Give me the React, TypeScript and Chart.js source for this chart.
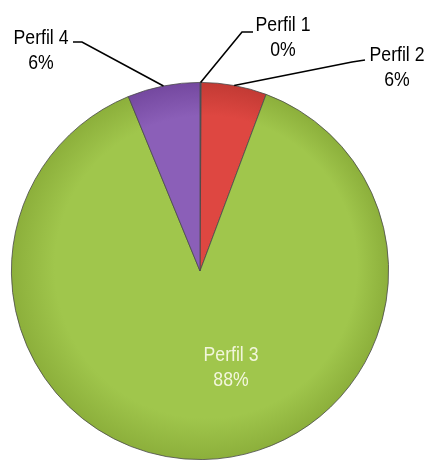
import React, { useEffect, useRef } from "react";
import { Chart, registerables } from "chart.js";

Chart.register(...registerables);

const categories = ["Perfil 1", "Perfil 2", "Perfil 3", "Perfil 4"];
const values = [0.1, 5.6, 88.1, 6.2];
const baseColors = ["#4f81bd", "#de4741", "#a0c64c", "#8b5fb8"];
const edgeColors = ["#3a6aa0", "#c23a34", "#8caf3b", "#74489f"];

const FONT = '"Liberation Sans", Arial, sans-serif';

// label layout: text centre, leader path (elbow then end)
const layout = [
  { tx: 283, ty: 25, elbow: [242, 32], end: [253, 32], inside: false },
  { tx: 397, ty: 55, elbow: [352, 62], end: [365, 60], inside: false },
  { tx: 231, ty: 355, elbow: null, end: null, inside: true },
  { tx: 41, ty: 38, elbow: [82, 42], end: [73, 42], inside: false },
];

function narrowText(ctx: any, text: string, x: number, y: number) {
  ctx.save();
  ctx.translate(x, y);
  ctx.scale(0.84, 1);
  ctx.fillText(text, 0, 0);
  ctx.restore();
}

const labelPlugin = {
  id: "pieLabels",
  afterDatasetsDraw(chart: any) {
    const ctx = chart.ctx;
    const meta = chart.getDatasetMeta(0);
    const data = chart.data.datasets[0].data as number[];
    const total = data.reduce((a: number, b: number) => a + b, 0);
    ctx.save();
    meta.data.forEach((arc: any, i: number) => {
      const L = layout[i];
      const pct = Math.round((data[i] / total) * 100) + "%";
      const name = chart.data.labels[i];
      if (!L.inside) {
        const mid = (arc.startAngle + arc.endAngle) / 2;
        const sx = arc.x + Math.cos(mid) * arc.outerRadius;
        const sy = arc.y + Math.sin(mid) * arc.outerRadius;
        ctx.beginPath();
        ctx.strokeStyle = "#000";
        ctx.lineWidth = 1.6;
        ctx.moveTo(sx, sy);
        ctx.lineTo(L.elbow![0], L.elbow![1]);
        ctx.lineTo(L.end![0], L.end![1]);
        ctx.stroke();
        ctx.fillStyle = "#000";
      } else {
        ctx.fillStyle = "#f2f6dc";
      }
      ctx.font = "21px " + FONT;
      ctx.textAlign = "center";
      ctx.textBaseline = "middle";
      narrowText(ctx, name, L.tx, L.ty);
      narrowText(ctx, pct, L.tx, L.ty + 25);
    });
    ctx.restore();
  },
};

export default function App() {
  const ref = useRef<HTMLCanvasElement>(null);
  useEffect(() => {
    const canvas = ref.current!;
    const chart = new Chart(canvas, {
      type: "pie",
      data: {
        labels: categories,
        datasets: [
          {
            data: values,
            backgroundColor: (c: any) => {
              const i = c.dataIndex;
              const area = c.chart.chartArea;
              if (!area) return baseColors[i];
              const cx = (area.left + area.right) / 2;
              const cy = (area.top + area.bottom) / 2;
              const r = Math.min(area.right - area.left, area.bottom - area.top) / 2;
              const g = c.chart.ctx.createRadialGradient(cx + 30, cy - 20, 0, cx, cy, r);
              g.addColorStop(0, baseColors[i]);
              g.addColorStop(0.8, baseColors[i]);
              g.addColorStop(1, edgeColors[i]);
              return g;
            },
            borderColor: "#4a4a4a",
            borderWidth: 0.8,
          },
        ],
      },
      options: {
        animation: false,
        responsive: false,
        layout: { padding: { left: 11, right: 39, top: 82, bottom: 0 } },
        plugins: {
          legend: { display: false },
          tooltip: { enabled: false },
        },
      },
      plugins: [labelPlugin],
    });
    return () => chart.destroy();
  }, []);
  return (
    <div style={{ position: "fixed", left: 0, top: 0, width: 428, height: 460, background: "#fff" }}>
      <canvas ref={ref} width={428} height={460} style={{ width: 428, height: 460 }} />
    </div>
  );
}
